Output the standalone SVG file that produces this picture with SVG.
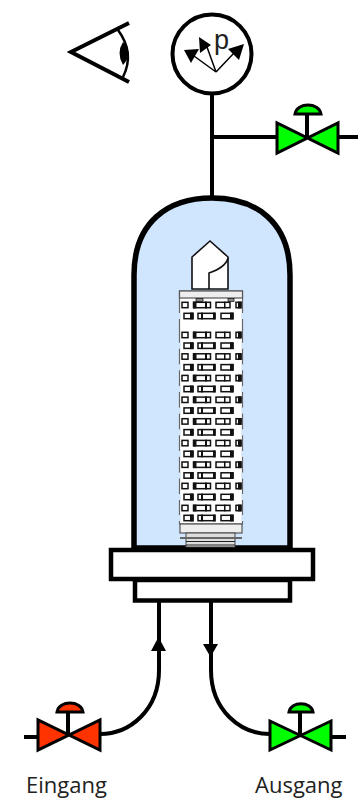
<svg xmlns="http://www.w3.org/2000/svg" width="360" height="802" viewBox="0 0 360 802">
<style>
.p{fill:none;stroke:#000;stroke-width:4}
.v{stroke:#000;stroke-width:3;stroke-linejoin:miter}
.r{fill:#ff3300}.g{fill:#00ff00}
.h{fill:#fff;stroke:#111;stroke-width:1.5}
.d{fill:#111}
.n{fill:#d0e6ff}
.t{font-family:"Open Sans","Liberation Sans",sans-serif;font-size:22px;fill:#222}
</style>
<defs>
<g id="rowA">
<rect class="h" x="182" y="-2.700" width="6" height="5.400"/>
<rect class="h" x="193.500" y="-2.700" width="17" height="5.400"/><rect class="d" x="193" y="-3.400" width="3.500" height="6.800"/><rect class="d" x="205" y="-3.400" width="2" height="6.800"/>
<rect class="h" x="216" y="-2.700" width="14" height="5.400"/><rect class="d" x="224" y="-3.400" width="1.500" height="6.800"/>
<rect class="h" x="236" y="-2.700" width="5" height="5.400"/><rect class="d" x="238" y="-3.400" width="3.500" height="6.800"/>
</g>
<g id="rowB">
<rect class="n" x="178" y="-3" width="2.500" height="6"/><rect class="n" x="241.500" y="-3" width="2.500" height="6"/>
<rect class="h" x="184" y="-2.700" width="9" height="5.400"/><rect class="d" x="190" y="-3.400" width="3.500" height="6.800"/>
<rect class="h" x="198" y="-2.700" width="17" height="5.400"/><rect class="d" x="201" y="-3.400" width="2" height="6.800"/><rect class="d" x="213" y="-3.400" width="2.500" height="6.800"/>
<rect class="h" x="221" y="-2.700" width="12" height="5.400"/><rect class="d" x="230" y="-3.400" width="3.500" height="6.800"/>
</g>
</defs>
<g id="vessel">
<path d="M134,548V275C134,222 168,198 212,198C256,198 290,222 290,275V548Z" fill="#d0e6ff" stroke="#000" stroke-width="5.500"/>
</g>
<g id="filter">
<path d="M192,289V257L210,241L228,257V289Z" fill="#fff" stroke="#111" stroke-width="1.6"/>
<path d="M228,258C226,266 218,270 209,273V289" fill="none" stroke="#111" stroke-width="1.600"/>
<rect x="179.500" y="291" width="63" height="233" fill="#fff" stroke="#666" stroke-width="1.2"/>
<rect x="179.500" y="291" width="63" height="7" fill="#eee" stroke="#555" stroke-width="1.2"/>
<rect x="196" y="298.500" width="7" height="3" fill="#888" stroke="#222" stroke-width=".8"/>
<rect x="228" y="298.500" width="6" height="3" fill="#888" stroke="#222" stroke-width=".8"/>
<use href="#rowA" y="305"/><use href="#rowB" y="316"/>
<use href="#rowA" y="335"/>
<use href="#rowB" y="345.700"/><use href="#rowA" y="356.500"/><use href="#rowB" y="367.300"/><use href="#rowA" y="378.100"/>
<use href="#rowB" y="389"/><use href="#rowA" y="399.800"/><use href="#rowB" y="410.600"/><use href="#rowA" y="421.400"/>
<use href="#rowB" y="432.300"/><use href="#rowA" y="443.100"/><use href="#rowB" y="453.900"/><use href="#rowA" y="464.700"/>
<use href="#rowB" y="475.500"/><use href="#rowA" y="486"/><use href="#rowB" y="497"/><use href="#rowA" y="508"/><use href="#rowB" y="518"/>
<rect x="180" y="524" width="62" height="9" fill="#eee" stroke="#555" stroke-width="1.2"/>
<rect x="186" y="533" width="49" height="14" fill="#ddd" stroke="#444" stroke-width="1"/>
<path d="M180,538H242" stroke="#666" stroke-width="2"/>
<path d="M186,541.500H235M186,545H235" stroke="#222" stroke-width="1"/>
</g>
<g id="flange">
<rect x="111" y="550" width="202" height="29" fill="#fff" stroke="#000" stroke-width="4.5"/>
<rect x="135" y="580" width="155" height="20.500" fill="#fff" stroke="#000" stroke-width="4.500"/>
</g>
<g id="connectors">
<path class="p" d="M212,94V197M212,137H277M338,137H358"/>
<path class="p" d="M159,602V670C159,710 130,734 100,734"/>
<path d="M151,651L158.500,637L166,651Z"/>
<path class="p" d="M211,602V670C211,710 240,734 270,734"/>
<path d="M203,644H218L210.500,657Z"/>
<path class="p" d="M24,737H38M332,737H346"/>
</g>
<g id="eye">
<path class="p" d="M129,23L71,52L129,82"/>
<path d="M118,30Q135,53 123,77" fill="none" stroke="#000" stroke-width="2.500"/>
<path d="M123,42Q116,53 123,65Q134,53 123,42Z"/>
</g>
<g id="gauge">
<circle cx="212" cy="54" r="39.500" fill="#fff" stroke="#000" stroke-width="4"/>
<text x="214" y="49" font-family="Liberation Sans,sans-serif" font-size="27" fill="#222">p</text>
<path d="M216,72L194,56M216,72L207,47M216,72L234,53" fill="none" stroke="#000" stroke-width="1.500"/>
<path d="M184,50L199,49L191,63Z"/><path d="M199,37L211,45L200,53Z"/><path d="M244,44L239,60L228,49Z"/>
</g>
<g id="valve-top">
<path class="v g" d="M277,123V153L338,123V153Z"/>
<path class="p" d="M307,137V114"/>
<path class="g" d="M295,114C297,102 319,102 321,114Z" stroke="#000" stroke-width="3"/>
</g>
<g id="valve-in">
<path class="v r" d="M38,720V750L100,720V750Z"/>
<path class="p" d="M68,735V712"/>
<path class="r" d="M57,712C59,700 81,700 83,712Z" stroke="#000" stroke-width="3"/>
</g>
<g id="valve-out">
<path class="v g" d="M270,721V750L331,721V750Z"/>
<path class="p" d="M300,735V712"/>
<path class="g" d="M289,712C291,701 311,701 313,712Z" stroke="#000" stroke-width="3"/>
</g>
<text class="t" x="26" y="793">Eingang</text>
<text class="t" x="255" y="793">Ausgang</text>
</svg>
